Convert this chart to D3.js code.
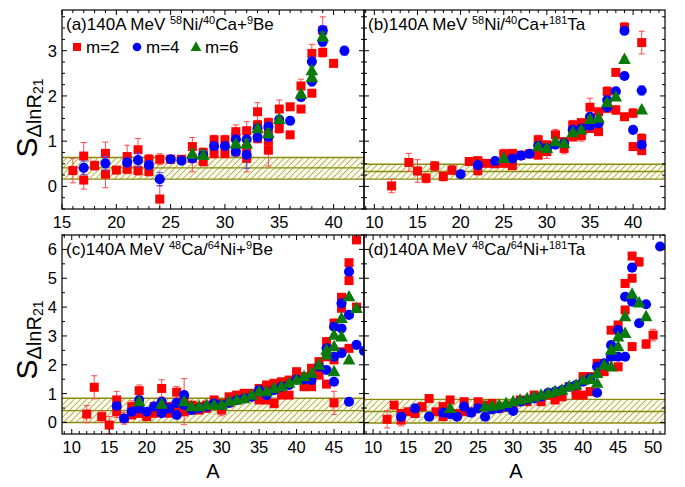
<!DOCTYPE html>
<html>
<head>
<meta charset="utf-8">
<script src="https://cdn.jsdelivr.net/npm/d3@7"></script>
<style>
body { margin: 0; background: #fff; }
text { font-family: "Liberation Sans", Arial, sans-serif; fill: #000; }
</style>
</head>
<body>
<div id="chart"></div>
<script>
// each point: [A, S, error]
var aM2 = [[16,0.35,0.27],[17,0.67,0.3],[17,0.14,0.2],[18,0.46,0.1],[19,0.73,0.25],[19,0.27,0.3],[20,0.36,0.05],[21,0.66,0.25],[21,0.38,0.1],[22,0.81,0.25],[22,0.35,0.1],[23,0.6,0.1],[23,0.33,0.1],[24,0.6,0.12],[24,-0.28,0.3],[25,0.6,0.05],[26,0.6,0.05],[27,0.88,0.2],[27,0.62,0.3],[28,0.75,0.1],[28,0.55,0.1],[29,1.03,0.1],[29,0.73,0.1],[30,1.03,0.1],[30,0.73,0.1],[31,1.21,0.15],[31,1.08,0.1],[31,0.77,0.1],[32,1.23,0.2],[32,0.84,0.3],[32,0.62,0.3],[33,1.65,0.2],[33,1.36,0.1],[33,1.06,0.1],[34,1.41,0.1],[34,1.2,0.1],[34,1.0,0.1],[34,0.8,0.35],[35,1.71,0.2],[35,1.28,0.1],[36,1.76,0.05],[36,1.14,0.05],[37,2.22,0.15],[37,1.71,0.05],[38,2.94,0.2],[38,2.06,0.05],[39,3.45,0.3],[39,2.96,0.1],[40,2.72,0.05]];
var aM4 = [[17,0.41,0.15],[19,0.51,0.15],[21,0.53,0.1],[22,0.58,0.15],[23,0.47,0.1],[24,0.16,0.15],[25,0.6,0.05],[26,0.57,0.05],[27,0.62,0.05],[28,0.7,0.1],[29,0.89,0.05],[30,0.89,0.05],[31,1.04,0.05],[31,0.77,0.1],[32,1.04,0.05],[32,0.7,0.3],[33,1.09,0.1],[33,1.28,0.05],[34,1.32,0.1],[34,1.1,0.1],[35,1.48,0.05],[36,1.45,0.05],[37,1.97,0.05],[38,2.76,0.1],[38,2.32,0.1],[39,3.45,0.1],[39,3.2,0.1],[41,3.0,0.1]];
var aM6 = [[27,0.72,0.1],[28,0.69,0.1],[31,0.94,0.05],[32,0.94,0.1],[33,1.28,0.05],[34,1.17,0.1],[35,1.48,0.05],[37,2.04,0.05],[38,2.56,0.1],[38,2.41,0.1],[39,3.31,0.1]];

var bM2 = [[12,0.01,0.15],[14,0.53,0.2],[15,0.34,0.25],[16,0.18,0.1],[17,0.45,0.1],[18,0.22,0.1],[19,0.36,0.1],[21,0.55,0.05],[22,0.57,0.05],[22,0.35,0.1],[23,0.51,0.05],[24,0.5,0.05],[25,0.72,0.1],[25,0.51,0.05],[26,0.73,0.05],[26,0.46,0.05],[27,0.69,0.05],[28,0.72,0.05],[29,1.03,0.1],[29,0.69,0.05],[30,0.92,0.05],[30,0.77,0.15],[31,1.14,0.12],[32,0.99,0.05],[32,0.84,0.12],[33,1.36,0.1],[33,1.09,0.05],[34,1.41,0.05],[34,1.12,0.12],[35,1.75,0.2],[35,1.28,0.05],[36,1.65,0.05],[36,1.21,0.05],[37,2.1,0.1],[37,1.73,0.1],[38,2.52,0.05],[38,1.69,0.1],[39,3.52,0.1],[39,1.54,0.05],[40,1.62,0.1],[40,0.88,0.05],[41,3.18,0.25],[41,1.06,0.1],[41,0.79,0.05]];
var bM4 = [[20,0.27,0.05],[22,0.47,0.05],[24,0.56,0.05],[26,0.61,0.05],[27,0.68,0.05],[28,0.72,0.05],[29,0.9,0.05],[30,0.84,0.05],[31,0.92,0.05],[32,0.95,0.05],[33,1.25,0.05],[34,1.28,0.05],[35,1.54,0.05],[35,1.34,0.05],[36,1.39,0.05],[37,1.91,0.05],[37,1.75,0.05],[38,2.1,0.05],[39,3.44,0.05],[39,2.44,0.05],[40,1.25,0.05],[41,2.12,0.1],[41,0.92,0.05]];
var bM6 = [[25,0.62,0.05],[29,0.88,0.05],[30,0.84,0.05],[31,0.99,0.05],[32,0.95,0.05],[33,1.19,0.05],[34,1.25,0.05],[35,1.48,0.05],[36,1.51,0.05],[37,1.85,0.05],[38,1.98,0.05],[39,2.81,0.05],[41,1.69,0.05]];

var cM2 = [[12,0.29,0.3],[13,1.22,0.4],[14,0.2,0.2],[15,-0.09,0.3],[16,0.78,0.3],[16,0.37,0.2],[17,0.14,0.2],[18,0.55,0.2],[18,0.26,0.1],[19,1.1,0.2],[19,0.32,0.15],[20,0.37,0.1],[20,0.2,0.1],[21,0.55,0.15],[21,0.32,0.1],[22,1.18,0.3],[22,0.37,0.1],[23,0.55,0.1],[23,0.32,0.1],[24,1.05,0.2],[24,0.52,0.1],[25,0.72,0.8],[25,0.37,0.1],[26,0.6,0.1],[26,0.43,0.1],[27,0.55,0.1],[27,0.43,0.1],[28,0.6,0.1],[28,0.49,0.1],[29,0.78,0.1],[29,0.6,0.1],[30,0.66,0.1],[30,0.43,0.2],[31,0.89,0.1],[31,0.68,0.1],[32,0.95,0.1],[32,0.78,0.1],[33,1.01,0.1],[33,0.83,0.1],[34,1.01,0.1],[34,0.89,0.1],[35,1.18,0.1],[35,0.78,0.1],[36,1.3,0.1],[36,0.78,0.1],[37,1.36,0.1],[37,0.66,0.15],[38,1.41,0.1],[38,0.95,0.1],[39,1.47,0.1],[39,0.95,0.1],[40,1.76,0.1],[40,1.53,0.1],[41,1.59,0.1],[41,1.24,0.1],[42,1.88,0.1],[42,1.24,0.1],[43,2.11,0.1],[43,1.64,0.1],[44,2.8,0.15],[44,2.28,0.1],[44,1.33,0.1],[45,3.44,0.15],[45,2.17,0.1],[45,0.68,0.4],[46,4.34,0.1],[46,3.96,0.1],[46,2.45,0.1],[47,5.54,0.1],[47,4.92,0.1],[47,2.57,0.1],[48,6.33,0.1],[48,4.0,0.1]];
var cM4 = [[16,0.57,0.1],[17,0.14,0.1],[18,0.37,0.1],[19,0.78,0.1],[19,0.49,0.1],[20,0.37,0.1],[21,0.55,0.1],[22,0.72,0.1],[22,0.32,0.1],[23,0.49,0.1],[24,0.68,0.1],[24,0.26,0.1],[25,0.95,0.1],[25,0.6,0.1],[26,0.43,0.05],[27,0.49,0.05],[28,0.55,0.05],[29,0.66,0.05],[30,0.6,0.05],[31,0.68,0.05],[32,0.78,0.05],[33,0.83,0.05],[34,0.89,0.05],[35,1.12,0.05],[36,0.95,0.05],[37,1.12,0.05],[38,1.24,0.05],[39,1.3,0.05],[40,1.49,0.05],[41,1.49,0.05],[42,1.47,0.05],[43,1.93,0.05],[44,2.57,0.05],[44,1.82,0.05],[45,3.32,0.05],[45,2.28,0.05],[45,1.41,0.05],[46,4.13,0.05],[46,3.26,0.05],[46,2.4,0.05],[47,5.23,0.05],[47,3.73,0.05],[47,0.72,0.05],[48,2.69,0.05],[49,2.48,0.05]];
var cM6 = [[19,0.72,0.05],[22,0.64,0.05],[25,0.72,0.05],[26,0.55,0.05],[27,0.55,0.05],[28,0.6,0.05],[29,0.6,0.05],[30,0.6,0.05],[31,0.72,0.05],[32,0.78,0.05],[33,0.83,0.05],[34,0.95,0.05],[35,1.07,0.05],[36,1.07,0.05],[37,1.18,0.05],[38,1.24,0.05],[39,1.36,0.05],[40,1.47,0.05],[41,1.59,0.05],[42,1.7,0.05],[43,1.99,0.05],[44,2.34,0.05],[44,2.51,0.05],[45,3.03,0.05],[45,2.63,0.05],[45,1.76,0.05],[46,3.61,0.05],[46,2.97,0.05],[47,4.36,0.05],[47,2.17,0.05],[48,3.96,0.05]];

var dM2 = [[12,0.11,0.3],[13,0.6,0.1],[14,0.08,0.2],[14,0.31,0.1],[15,0.37,0.1],[16,0.31,0.1],[17,0.55,0.1],[18,0.83,0.1],[19,0.37,0.1],[20,0.55,0.1],[20,0.2,0.1],[21,0.78,0.1],[22,0.31,0.1],[23,0.72,0.1],[23,0.37,0.1],[24,0.37,0.1],[25,0.72,0.1],[26,0.6,0.1],[27,0.66,0.1],[28,0.49,0.1],[29,0.55,0.1],[30,0.6,0.1],[31,0.78,0.05],[32,0.72,0.05],[33,0.95,0.05],[34,0.72,0.05],[35,0.95,0.05],[36,1.01,0.05],[36,0.78,0.05],[37,0.89,0.1],[38,1.24,0.05],[39,1.12,0.05],[39,0.95,0.05],[40,1.59,0.1],[40,0.95,0.05],[41,1.59,0.05],[41,1.07,0.05],[42,2.05,0.05],[43,1.76,0.05],[44,3.2,0.05],[44,2.28,0.05],[45,3.38,0.05],[45,1.93,0.1],[46,4.82,0.1],[46,3.9,0.1],[47,5.77,0.1],[47,5.0,0.1],[47,2.63,0.05],[48,5.57,0.15],[49,2.72,0.15],[50,3.03,0.2]];
var dM4 = [[14,0.2,0.05],[16,0.49,0.05],[18,0.2,0.05],[20,0.34,0.05],[21,0.29,0.05],[22,0.2,0.05],[23,0.55,0.05],[24,0.34,0.05],[25,0.49,0.05],[26,0.2,0.05],[27,0.45,0.05],[28,0.49,0.05],[29,0.55,0.05],[30,0.4,0.05],[31,0.72,0.05],[32,0.78,0.05],[33,0.83,0.05],[34,0.89,0.05],[35,1.03,0.05],[36,1.07,0.05],[37,1.12,0.05],[38,1.24,0.05],[39,1.3,0.05],[40,1.41,0.05],[41,1.53,0.05],[42,1.93,0.05],[42,1.03,0.05],[43,2.05,0.05],[44,2.68,0.05],[44,2.28,0.05],[45,3.2,0.05],[45,2.28,0.05],[46,4.36,0.05],[46,2.28,0.05],[47,5.37,0.05],[47,4.19,0.05],[48,3.44,0.05],[49,4.1,0.05],[51,6.1,0.05]];
var dM6 = [[21,0.49,0.05],[26,0.55,0.05],[27,0.57,0.05],[28,0.6,0.05],[29,0.66,0.05],[30,0.72,0.05],[31,0.78,0.05],[32,0.83,0.05],[33,0.89,0.05],[34,0.95,0.05],[35,1.01,0.05],[36,1.07,0.05],[37,1.12,0.05],[38,1.24,0.05],[39,1.3,0.05],[40,1.47,0.05],[41,1.49,0.05],[42,1.7,0.05],[42,1.36,0.05],[43,1.99,0.05],[44,2.51,0.05],[44,1.93,0.05],[45,2.97,0.05],[45,2.63,0.05],[46,3.67,0.05],[46,3.09,0.05],[47,4.45,0.05],[48,4.15,0.05],[49,3.67,0.05]];

// hatched bands: [low, middle, high]
var bandA = [0.16, 0.41, 0.64];
var bandB = [0.16, 0.33, 0.49];
var bandC = [0.0, 0.41, 0.84];
var bandD = [-0.02, 0.38, 0.8];

var xTicksA = [15, 20, 25, 30, 35, 40];
var xTicksB = [10, 15, 20, 25, 30, 35, 40];
var xTicksC = [10, 15, 20, 25, 30, 35, 40, 45];
var xTicksD = [10, 15, 20, 25, 30, 35, 40, 45, 50];
var yTicksTop = [0, 1, 2, 3];
var yTicksBot = [0, 1, 2, 3, 4, 5, 6];

// title pieces: [text, isSuperscript]
var titleA = [["(a)140A MeV ", 0], ["58", 1], ["Ni/", 0], ["40", 1], ["Ca+", 0], ["9", 1], ["Be", 0]];
var titleB = [["(b)140A MeV ", 0], ["58", 1], ["Ni/", 0], ["40", 1], ["Ca+", 0], ["181", 1], ["Ta", 0]];
var titleC = [["(c)140A MeV ", 0], ["48", 1], ["Ca/", 0], ["64", 1], ["Ni+", 0], ["9", 1], ["Be", 0]];
var titleD = [["(d)140A MeV ", 0], ["48", 1], ["Ca/", 0], ["64", 1], ["Ni+", 0], ["181", 1], ["Ta", 0]];

var legendNames = ["m=2", "m=4", "m=6"];

var width = 685;
var height = 487;
var colRed = "#ff0000";
var colBlue = "#0000ff";
var colGreen = "#0a7a0a";

var svg = d3
  .select("#chart")
  .append("svg")
  .attr("width", width)
  .attr("height", height);

var defs = svg.append("defs");
var pat = defs
  .append("pattern")
  .attr("id", "hatch")
  .attr("patternUnits", "userSpaceOnUse")
  .attr("width", 4.4)
  .attr("height", 4.4)
  .attr("patternTransform", "rotate(45)");
pat.append("rect").attr("width", 4.4).attr("height", 4.4).attr("fill", "#fcfcec");
pat
  .append("line")
  .attr("x1", 0).attr("y1", 0).attr("x2", 0).attr("y2", 4.4)
  .attr("stroke", "#99992a")
  .attr("stroke-width", 1.4);

var panels = [
  { id: "a", x0: 62, x1: 364, y0: 10, y1: 209, xdom: [15, 42.8], ydom: [-0.5, 3.9], xt: xTicksA, yt: yTicksTop, yminor: 0.25, band: bandA, title: titleA, data: [aM2, aM4, aM6], leftLabels: true, legend: true },
  { id: "b", x0: 364, x1: 665, y0: 10, y1: 209, xdom: [8.8, 43.7], ydom: [-0.5, 3.9], xt: xTicksB, yt: yTicksTop, yminor: 0.25, band: bandB, title: titleB, data: [bM2, bM4, bM6], leftLabels: false, legend: false },
  { id: "c", x0: 62, x1: 364, y0: 235, y1: 434, xdom: [8.7, 49], ydom: [-0.4, 6.5], xt: xTicksC, yt: yTicksBot, yminor: 0.5, band: bandC, title: titleC, data: [cM2, cM4, cM6], leftLabels: true, legend: false },
  { id: "d", x0: 364, x1: 665, y0: 235, y1: 434, xdom: [8.7, 51.7], ydom: [-0.4, 6.5], xt: xTicksD, yt: yTicksBot, yminor: 0.5, band: bandD, title: titleD, data: [dM2, dM4, dM6], leftLabels: false, legend: false }
];

function drawMarker(g, kind, cx, cy, s) {
  if (kind === 0) {
    g.append("rect")
      .attr("x", cx - s / 2).attr("y", cy - s / 2)
      .attr("width", s).attr("height", s)
      .attr("fill", colRed);
  } else if (kind === 1) {
    g.append("circle")
      .attr("cx", cx).attr("cy", cy).attr("r", s / 2 + 0.3)
      .attr("fill", colBlue);
  } else {
    var h = s * 1.05;
    g.append("path")
      .attr("d", "M" + cx + "," + (cy - h * 0.62) + "L" + (cx + s * 0.6) + "," + (cy + h * 0.42) + "L" + (cx - s * 0.6) + "," + (cy + h * 0.42) + "Z")
      .attr("fill", colGreen);
  }
}

panels.forEach(function(p) {
  var xScale = d3.scaleLinear().domain(p.xdom).range([p.x0, p.x1]);
  var yScale = d3.scaleLinear().domain(p.ydom).range([p.y1, p.y0]);
  var g = svg.append("g").attr("class", "panel-" + p.id);

  defs.append("clipPath").attr("id", "clip-" + p.id)
    .append("rect")
    .attr("x", p.x0).attr("y", p.y0)
    .attr("width", p.x1 - p.x0).attr("height", p.y1 - p.y0);

  var plot = g.append("g").attr("clip-path", "url(#clip-" + p.id + ")");

  // hatched band
  plot.append("rect")
    .attr("x", p.x0).attr("width", p.x1 - p.x0)
    .attr("y", yScale(p.band[2]))
    .attr("height", yScale(p.band[0]) - yScale(p.band[2]))
    .attr("fill", "url(#hatch)");
  p.band.forEach(function(v) {
    plot.append("line")
      .attr("x1", p.x0).attr("x2", p.x1)
      .attr("y1", yScale(v)).attr("y2", yScale(v))
      .attr("stroke", "#8a8a10")
      .attr("stroke-width", 1.4);
  });

  var errCols = ["#ff4a4a", "#4a4aff", "#2a8a2a"];
  var sizes = [9, 9.5, 10.5];
  p.data.forEach(function(series, k) {
    var sg = plot.append("g");
    series.forEach(function(d) {
      var cx = xScale(d[0]);
      var yt = yScale(d[1] + d[2]);
      var yb = yScale(d[1] - d[2]);
      sg.append("line")
        .attr("x1", cx).attr("x2", cx).attr("y1", yt).attr("y2", yb)
        .attr("stroke", errCols[k]).attr("stroke-width", 1);
      [yt, yb].forEach(function(yy) {
        sg.append("line")
          .attr("x1", cx - 3).attr("x2", cx + 3).attr("y1", yy).attr("y2", yy)
          .attr("stroke", errCols[k]).attr("stroke-width", 1);
      });
    });
    series.forEach(function(d) {
      drawMarker(sg, k, xScale(d[0]), yScale(d[1]), sizes[k]);
    });
  });

  // frame
  g.append("rect")
    .attr("x", p.x0).attr("y", p.y0)
    .attr("width", p.x1 - p.x0).attr("height", p.y1 - p.y0)
    .attr("fill", "none").attr("stroke", "#000").attr("stroke-width", 1.2);

  // ticks on all four sides, pointing in
  var xMinor = d3.range(Math.ceil(p.xdom[0]), p.xdom[1] + 0.001, 1);
  var yMinor = d3.range(Math.ceil(p.ydom[0] / p.yminor) * p.yminor, p.ydom[1] + 0.001, p.yminor);
  var tk = g.append("g").attr("stroke", "#000").attr("stroke-width", 1);
  xMinor.forEach(function(v) {
    var major = p.xt.indexOf(v) >= 0;
    var len = major ? 5 : 3;
    var xx = xScale(v);
    tk.append("line").attr("x1", xx).attr("x2", xx).attr("y1", p.y1).attr("y2", p.y1 - len);
    tk.append("line").attr("x1", xx).attr("x2", xx).attr("y1", p.y0).attr("y2", p.y0 + len);
  });
  yMinor.forEach(function(v) {
    var major = Math.abs(v - Math.round(v)) < 1e-6;
    var len = major ? 5 : 3;
    var yy = yScale(v);
    tk.append("line").attr("x1", p.x0).attr("x2", p.x0 + len).attr("y1", yy).attr("y2", yy);
    tk.append("line").attr("x1", p.x1).attr("x2", p.x1 - len).attr("y1", yy).attr("y2", yy);
  });

  // tick labels
  p.xt.forEach(function(v) {
    g.append("text")
      .attr("x", xScale(v)).attr("y", p.y1 + 19)
      .attr("text-anchor", "middle")
      .attr("font-size", 16.5)
      .text(v);
  });
  if (p.leftLabels) {
    p.yt.forEach(function(v) {
      g.append("text")
        .attr("x", p.x0 - 5).attr("y", yScale(v) + 6)
        .attr("text-anchor", "end")
        .attr("font-size", 16.5)
        .text(v);
    });
  }

  // title
  var t = g.append("text")
    .attr("x", p.x0 + 4).attr("y", p.y0 + 20)
    .attr("font-size", 17);
  var prevSup = false;
  p.title.forEach(function(part) {
    if (part[1]) {
      t.append("tspan").attr("font-size", 11).attr("dy", -6.5).text(part[0]);
      prevSup = true;
    } else {
      t.append("tspan").attr("dy", prevSup ? 6.5 : 0).text(part[0]);
      prevSup = false;
    }
  });

  if (p.legend) {
    var lx = [77, 137, 196];
    var ly = p.y0 + 37;
    legendNames.forEach(function(name, k) {
      drawMarker(g, k, lx[k], ly, k === 2 ? 9 : 8);
      g.append("text")
        .attr("x", lx[k] + 9).attr("y", ly + 6)
        .attr("font-size", 17)
        .text(name);
    });
  }
});

// y axis labels
[[118, "top"], [340, "bot"]].forEach(function(yl) {
  var lab = svg.append("text")
    .attr("transform", "translate(37," + yl[0] + ")rotate(-90)")
    .attr("text-anchor", "middle")
    .attr("font-size", 30);
  lab.append("tspan").text("S");
  lab.append("tspan").attr("font-size", 20).attr("dy", 4).text("\u0394lnR");
  lab.append("tspan").attr("font-size", 14).attr("dy", 2).text("21");
});

// x axis labels
[213, 516].forEach(function(xx) {
  svg.append("text")
    .attr("x", xx).attr("y", 478)
    .attr("text-anchor", "middle")
    .attr("font-size", 20)
    .text("A");
});
</script>
</body>
</html>
